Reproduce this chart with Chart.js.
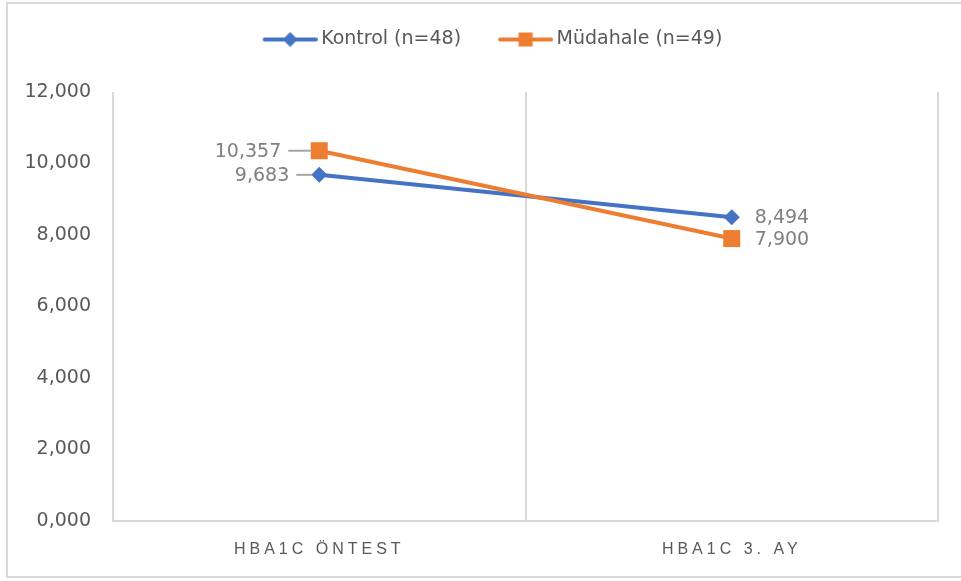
<!DOCTYPE html>
<html>
<head>
<meta charset="utf-8">
<script src="https://cdn.jsdelivr.net/npm/chart.js@4"></script>
<style>
  html, body { margin: 0; padding: 0; background: #ffffff; overflow: hidden; }
  #wrap { position: relative; width: 961px; height: 581px; overflow: hidden; }
  #frame { position: absolute; left: 6px; top: 2px; width: 955px; height: 576px; border: 2px solid #d9d9d9; border-right: none; box-sizing: border-box; pointer-events: none; }
  canvas { position: absolute; left: 0; top: 0; }
</style>
</head>
<body>
<div id="wrap">
  <canvas id="chart" width="961" height="581"></canvas>
  <div id="frame"></div>
</div>
<script>
// ---- data ----
const categories = ['HBA1C ÖNTEST', 'HBA1C 3. AY'];
const seriesNames = ['Kontrol (n=48)', 'Müdahale (n=49)'];
const kontrolValues = [9.683, 8.494];
const mudahaleValues = [10.357, 7.900];
const yTickValues = [0, 2, 4, 6, 8, 10, 12];

// ---- style ----
const BLUE = '#4472c4';
const ORANGE = '#ed7d31';
const TEXT = '#595959';
const LABEL = '#7f7f7f';
const GRID = '#d9d9d9';
const FONT = '"DejaVu Sans", "Liberation Sans", sans-serif';
const labelOffsets = { left: [-30, -38], right: [23, 23] };

function fmt(v) { return Number(v).toFixed(3).replace('.', ','); }

function legendIcon(color, shape) {
  const W = 88, H = 20;
  const c = document.createElement('canvas');
  c.width = W; c.height = H;
  const g = c.getContext('2d');
  g.strokeStyle = color; g.lineWidth = 4; g.lineCap = 'round';
  g.beginPath(); g.moveTo(35, 10); g.lineTo(86, 10); g.stroke();
  const cx = 60.5, cy = 10;
  g.fillStyle = color;
  if (shape === 'diamond') {
    g.beginPath(); g.moveTo(cx, cy - 7.5); g.lineTo(cx + 7.5, cy); g.lineTo(cx, cy + 7.5); g.lineTo(cx - 7.5, cy); g.closePath(); g.fill();
  } else {
    g.fillRect(cx - 7, cy - 7, 14, 14);
  }
  return c;
}
const icons = [legendIcon(BLUE, 'diamond'), legendIcon(ORANGE, 'square')];

const legendGap = {
  id: 'legendGap',
  beforeLayout(chart) {
    const lg = chart.legend;
    if (lg && !lg._gapPatched) {
      const fit = lg.fit;
      lg.fit = function () { fit.call(this); this.height += 33; };
      lg._gapPatched = true;
    }
  }
};

const spacing = {
  id: 'spacing',
  beforeDraw(chart) { chart.ctx.letterSpacing = '0px'; },
  afterDatasetsDraw(chart) { chart.ctx.letterSpacing = '4px'; },
  afterDraw(chart) {
    const ctx = chart.ctx;
    ctx.letterSpacing = '0px';
    ctx.save();
    ctx.font = '19px ' + FONT;
    ctx.fillStyle = LABEL;
    ctx.textBaseline = 'middle';
    chart.data.datasets.forEach((ds, di) => {
      const meta = chart.getDatasetMeta(di);
      meta.data.forEach((pt, i) => {
        const txt = fmt(ds.data[i]);
        if (i === 0) {
          const right = pt.x + labelOffsets.left[di];
          ctx.textAlign = 'right';
          ctx.fillText(txt, right, pt.y + 1);
          ctx.strokeStyle = '#a6a6a6';
          ctx.lineWidth = 2;
          ctx.beginPath();
          ctx.moveTo(right + 7, pt.y);
          ctx.lineTo(pt.x - 7, pt.y);
          ctx.stroke();
        } else {
          ctx.textAlign = 'left';
          ctx.fillText(txt, pt.x + labelOffsets.right[di], pt.y + 1);
        }
      });
    });
    ctx.restore();
  }
};

new Chart(document.getElementById('chart'), {
  type: 'line',
  data: {
    labels: categories,
    datasets: [
      { label: seriesNames[0], data: kontrolValues, borderColor: BLUE, backgroundColor: BLUE,
        borderWidth: 4, pointStyle: 'rectRot', pointRadius: 8, pointBorderWidth: 0,
        pointBackgroundColor: BLUE, pointBorderColor: BLUE, order: 1, tension: 0 },
      { label: seriesNames[1], data: mudahaleValues, borderColor: ORANGE, backgroundColor: ORANGE,
        borderWidth: 4, pointStyle: 'rect', pointRadius: 12, pointBorderWidth: 0,
        pointBackgroundColor: ORANGE, pointBorderColor: ORANGE, order: 0, tension: 0 }
    ]
  },
  options: {
    responsive: false,
    animation: false,
    events: [],
    layout: { padding: { top: 20, left: 20, right: 23, bottom: 0 } },
    plugins: {
      tooltip: { enabled: false },
      legend: {
        position: 'top',
        labels: {
          usePointStyle: true,
          pointStyleWidth: 76,
          padding: 10,
          color: TEXT,
          font: { family: FONT, size: 19 },
          generateLabels: (chart) => chart.data.datasets.map((ds, i) => ({
            text: ds.label, pointStyle: icons[i], fillStyle: ds.borderColor,
            strokeStyle: ds.borderColor, lineWidth: 0, hidden: false, datasetIndex: i, fontColor: TEXT
          }))
        }
      }
    },
    scales: {
      x: {
        offset: true,
        grid: { display: true, offset: true, color: GRID, lineWidth: 2, drawTicks: false },
        border: { display: true, color: GRID, width: 2 },
        ticks: { z: 1, color: TEXT, padding: 19, maxRotation: 0, autoSkip: false,
                 font: { family: '"Liberation Sans", sans-serif', size: 16 } },
        afterFit: (s) => { s.height = 60; }
      },
      y: {
        min: 0, max: 12,
        grid: { display: false, drawTicks: false },
        border: { display: false },
        afterBuildTicks: (s) => { s.ticks = yTickValues.map(v => ({ value: v })); },
        ticks: { color: TEXT, padding: 22, font: { family: FONT, size: 19 }, callback: (v) => fmt(v) },
        afterFit: (s) => { s.width = 93; }
      }
    }
  },
  plugins: [legendGap, spacing]
});
</script>
</body>
</html>
